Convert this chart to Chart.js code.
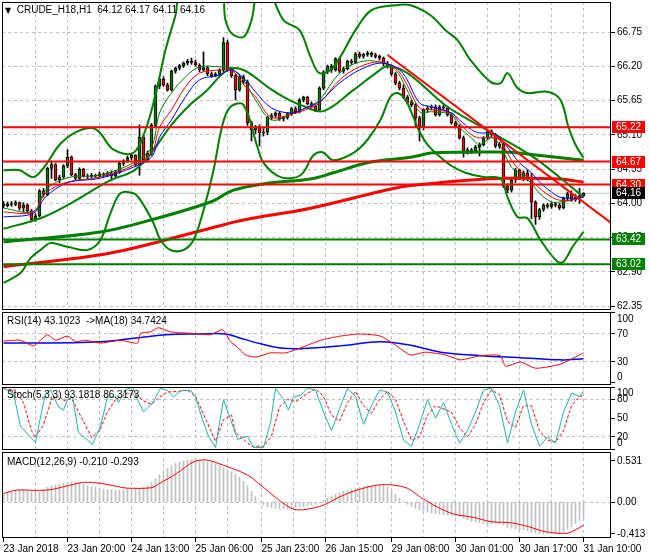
<!DOCTYPE html>
<html>
<head>
<meta charset="utf-8">
<title>CRUDE_H18,H1</title>
<script src="https://cdn.jsdelivr.net/npm/chart.js@4"></script>
<style>
  body { margin: 0; background: #fff; }
  #wrap { position: relative; width: 650px; height: 560px; overflow: hidden; font-family: 'Liberation Sans', Arial, sans-serif; }
  canvas { position: absolute; left: 0; }
  .ttl { position: absolute; font-size: 10px; line-height: 12px; color: #000; white-space: pre; }
  .tri { font-family: 'DejaVu Sans', sans-serif; font-size: 8px; }
</style>
</head>
<body>
<div id="wrap">
  <canvas id="priceChart"></canvas>
  <canvas id="rsiChart"></canvas>
  <canvas id="stochChart"></canvas>
  <canvas id="macdChart"></canvas>
  <div class="ttl" style="left:5px;top:4px"><span class="tri">▼</span>  CRUDE_H18,H1  64.12 64.17 64.11 64.16</div>
  <div class="ttl" style="left:7px;top:315px">RSI(14) 43.1023  -&gt;MA(18) 34.7424</div>
  <div class="ttl" style="left:7px;top:389px">Stoch(5,3,3) 93.1818 86.3173</div>
  <div class="ttl" style="left:7px;top:456px">MACD(12,26,9) -0.210 -0.293</div>
</div>
<script>
// time axis: bar 0 = 23 Jan 2018, bar 145 = 31 Jan 10:00 (one bar per hour)
const labelBars = [0, 16, 32, 48, 64.5, 80.5, 97, 113, 129, 145];
const labelTexts = ['23 Jan 2018', '23 Jan 20:00', '24 Jan 13:00', '25 Jan 06:00', '25 Jan 23:00',
                    '26 Jan 15:00', '29 Jan 08:00', '30 Jan 01:00', '30 Jan 17:00', '31 Jan 10:00'];
const midGridBars = [8, 24, 40, 56, 72.5, 88.5, 105, 121, 137];

// H1 candles
const opens = [
  63.99, 63.96, 63.99, 63.98, 64.01, 63.92, 63.97, 63.88, 63.74, 63.80,
  64.20, 64.14, 64.56, 64.62, 64.38, 64.42, 64.60, 64.74, 64.46, 64.40,
  64.55, 64.44, 64.43, 64.45, 64.44, 64.47, 64.45, 64.48, 64.44, 64.50,
  64.64, 64.68, 64.73, 64.77, 64.62, 65.06, 64.70, 64.80, 65.25, 65.88,
  65.99, 65.90, 65.82, 66.12, 66.17, 66.21, 66.25, 66.28, 66.26, 66.22,
  66.14, 66.18, 66.08, 66.05, 66.07, 66.14, 66.58, 66.15, 66.05, 65.82,
  66.03, 65.95, 65.29, 65.18, 65.22, 65.13, 65.14, 65.38, 65.41, 65.45,
  65.36, 65.38, 65.44, 65.52, 65.47, 65.66, 65.70, 65.60, 65.56, 65.50,
  65.85, 66.11, 66.20, 66.14, 66.32, 66.12, 66.16, 66.28, 66.26, 66.40,
  66.36, 66.39, 66.41, 66.38, 66.36, 66.33, 66.24, 66.20, 66.08, 65.93,
  65.85, 65.70, 65.62, 65.58, 65.37, 65.22, 65.50, 65.53, 65.55, 65.42,
  65.55, 65.53, 65.42, 65.29, 65.24, 65.05, 64.82, 64.86, 64.84, 64.90,
  64.94, 65.05, 65.15, 65.10, 64.92, 64.95, 64.28, 64.21, 64.37, 64.53,
  64.40, 64.49, 64.40, 64.02, 63.78, 63.90, 63.97, 63.95, 63.99, 63.97,
  63.93, 64.08, 64.15, 64.06, 64.10, 64.12
];
const highs = [
  64.03, 64.02, 64.03, 64.04, 64.02, 64.01, 63.99, 63.90, 63.83, 64.22,
  64.24, 64.58, 64.68, 64.64, 64.45, 64.62, 64.86, 64.76, 64.48, 64.57,
  64.56, 64.47, 64.48, 64.47, 64.50, 64.49, 64.51, 64.52, 64.53, 64.66,
  64.70, 64.76, 64.79, 64.78, 65.26, 65.08, 64.84, 65.28, 65.90, 66.01,
  66.03, 65.93, 66.14, 66.19, 66.23, 66.27, 66.31, 66.33, 66.30, 66.24,
  66.43, 66.20, 66.11, 66.10, 66.16, 66.66, 66.62, 66.18, 66.07, 66.06,
  66.06, 65.98, 65.32, 65.25, 65.26, 65.20, 65.40, 65.44, 65.47, 65.47,
  65.40, 65.46, 65.54, 65.55, 65.68, 65.72, 65.72, 65.63, 65.58, 65.87,
  66.13, 66.22, 66.23, 66.34, 66.34, 66.19, 66.30, 66.31, 66.42, 66.43,
  66.41, 66.44, 66.43, 66.41, 66.38, 66.35, 66.28, 66.22, 66.10, 65.96,
  65.90, 65.73, 65.66, 65.60, 65.40, 65.52, 65.56, 65.58, 65.58, 65.57,
  65.58, 65.55, 65.44, 65.32, 65.26, 65.08, 64.89, 64.88, 64.93, 64.97,
  65.07, 65.17, 65.18, 65.12, 64.98, 64.98, 64.31, 64.40, 64.56, 64.55,
  64.52, 64.53, 64.48, 64.04, 63.92, 63.99, 64.00, 64.02, 64.01, 64.00,
  64.10, 64.18, 64.20, 64.14, 64.24, 64.17
];
const lows = [
  63.93, 63.94, 63.95, 63.96, 63.89, 63.86, 63.85, 63.70, 63.71, 63.78,
  64.10, 64.12, 64.40, 64.36, 64.33, 64.40, 64.57, 64.44, 64.37, 64.38,
  64.42, 64.40, 64.41, 64.41, 64.42, 64.42, 64.43, 64.36, 64.42, 64.48,
  64.60, 64.66, 64.70, 64.60, 64.45, 64.68, 64.66, 64.77, 65.22, 65.84,
  65.88, 65.80, 65.80, 66.09, 66.14, 66.18, 66.22, 66.23, 66.20, 66.11,
  66.12, 66.05, 66.02, 66.03, 66.04, 66.10, 66.12, 66.02, 65.66, 65.80,
  65.92, 65.25, 65.00, 65.12, 64.92, 65.08, 65.10, 65.34, 65.38, 65.33,
  65.32, 65.35, 65.41, 65.44, 65.45, 65.63, 65.58, 65.53, 65.47, 65.48,
  65.82, 66.08, 66.10, 66.12, 66.10, 66.09, 66.14, 66.23, 66.24, 66.33,
  66.33, 66.36, 66.35, 66.33, 66.30, 66.21, 66.17, 66.05, 65.90, 65.82,
  65.68, 65.60, 65.55, 65.22, 65.00, 65.18, 65.46, 65.50, 65.40, 65.40,
  65.50, 65.40, 65.27, 65.21, 65.03, 64.74, 64.79, 64.80, 64.82, 64.76,
  64.92, 65.02, 65.07, 64.89, 64.88, 64.25, 64.17, 64.18, 64.33, 64.38,
  64.36, 64.36, 63.75, 63.66, 63.74, 63.87, 63.92, 63.92, 63.94, 63.90,
  63.91, 64.05, 64.03, 64.03, 64.00, 64.11
];
const closes = [
  63.96, 63.99, 63.98, 64.01, 63.92, 63.97, 63.88, 63.74, 63.80, 64.20,
  64.14, 64.56, 64.62, 64.38, 64.42, 64.60, 64.74, 64.46, 64.40, 64.55,
  64.44, 64.43, 64.45, 64.44, 64.47, 64.45, 64.48, 64.44, 64.50, 64.64,
  64.68, 64.73, 64.77, 64.62, 65.06, 64.70, 64.80, 65.25, 65.88, 65.99,
  65.90, 65.82, 66.12, 66.17, 66.21, 66.25, 66.28, 66.26, 66.22, 66.14,
  66.18, 66.08, 66.05, 66.07, 66.14, 66.58, 66.15, 66.05, 65.82, 66.03,
  65.95, 65.29, 65.18, 65.22, 65.13, 65.14, 65.38, 65.41, 65.45, 65.36,
  65.38, 65.44, 65.52, 65.47, 65.66, 65.70, 65.60, 65.56, 65.50, 65.85,
  66.11, 66.20, 66.14, 66.32, 66.12, 66.16, 66.28, 66.26, 66.40, 66.36,
  66.39, 66.41, 66.38, 66.36, 66.33, 66.24, 66.20, 66.08, 65.93, 65.85,
  65.70, 65.62, 65.58, 65.37, 65.22, 65.50, 65.53, 65.55, 65.42, 65.55,
  65.53, 65.42, 65.29, 65.24, 65.05, 64.82, 64.86, 64.84, 64.90, 64.94,
  65.05, 65.15, 65.10, 64.92, 64.95, 64.28, 64.21, 64.37, 64.53, 64.40,
  64.49, 64.40, 64.02, 63.78, 63.90, 63.97, 63.95, 63.99, 63.97, 63.93,
  64.08, 64.15, 64.06, 64.10, 64.12, 64.16
];

// overlays: [bar, price]
const maFast = [[0,63.92],[7.5,63.87],[10.5,64.21],[16,64.41],[24,64.45],[32.5,64.65],[37,64.90],[39,65.45],[42,65.77],
  [45.5,66.03],[49,66.19],[54,66.19],[57,66.17],[60.5,65.93],[63,65.66],[67,65.34],[72,65.43],[75.5,65.53],[79,65.66],
  [84,66.09],[89,66.27],[94,66.27],[98,66.14],[100.5,65.87],[104,65.47],[107,65.47],[112,65.42],[114,65.22],[117,65.05],
  [119,64.94],[122,65.05],[124,64.94],[127,64.58],[129,64.49],[132,64.32],[134,64.16],[137,64.02],[139,64.02],[142,64.05],[145,64.10]];
const maMid = [[0,63.86],[7.5,63.86],[10.5,64.16],[16,64.34],[24,64.42],[32.5,64.61],[37,64.81],[39,65.22],[42,65.50],
  [45.5,65.87],[49,66.09],[54,66.14],[57,66.14],[60.5,65.87],[63,65.71],[67,65.38],[72,65.43],[75.5,65.50],[79,65.61],
  [84,65.98],[89,66.19],[94,66.27],[98,66.17],[100.5,65.95],[104,65.53],[107,65.50],[112,65.45],[114,65.29],[117,65.10],
  [119,65.05],[122,65.06],[124,65.02],[127,64.69],[129,64.53],[132,64.37],[134,64.24],[137,64.10],[139,64.05],[142,64.05],[145,64.10]];
const maSlow = [[0,63.78],[7.5,63.84],[10.5,64.10],[16,64.33],[24,64.40],[32.5,64.58],[37,64.74],[39,65.06],[42,65.34],
  [45.5,65.71],[49,65.98],[54,66.06],[57,66.14],[60.5,65.98],[63,65.79],[67,65.53],[72,65.45],[75.5,65.53],[79,65.63],
  [84,65.93],[89,66.14],[94,66.25],[98,66.19],[100.5,66.03],[104,65.61],[107,65.55],[112,65.45],[114,65.34],[117,65.18],
  [119,65.13],[122,65.13],[124,65.06],[127,64.81],[129,64.65],[132,64.49],[134,64.34],[137,64.18],[139,64.10],[142,64.08],[145,64.10]];
const bbUpper = [[0,64.53],[4,64.53],[7.5,64.42],[10.5,64.61],[14,64.94],[18,65.14],[22,65.21],[24,65.14],[27.5,64.86],
  [32.5,64.81],[35.5,65.18],[38,65.74],[40.5,66.46],[43,67.02],[44.5,67.40],[54,67.45],[55.5,66.94],[57,66.73],[60,66.67],
  [62,66.94],[63.5,67.40],[66,67.45],[70,66.94],[74,66.78],[76.75,66.35],[79,66.09],[82.5,66.19],[88,66.78],[92,67.10],
  [98,67.18],[101.75,67.18],[106.75,67.02],[110.5,66.78],[113.5,66.62],[116.75,66.30],[121.75,65.95],[124.25,65.93],
  [126,66.09],[128.5,65.85],[131,65.77],[136,65.79],[139.25,65.66],[141.25,65.22],[143,64.94],[145,64.73]];
const bbMiddle = [[0,63.59],[9.25,63.76],[16,63.97],[26.75,64.37],[32.5,64.52],[36.75,64.79],[41.75,65.24],[46.75,65.59],
  [50.5,65.79],[56,66.14],[60,66.14],[66,65.87],[70,65.71],[74.25,65.58],[80,65.48],[87.5,65.82],[93.5,66.11],[96,66.20],
  [101,66.09],[111,65.55],[120,65.21],[132.5,64.74],[145,64.10]];
const bbLower = [[0,62.72],[4.25,62.88],[6.75,63.12],[9.25,63.25],[11.75,63.36],[16,63.30],[21,63.25],[24.25,63.41],
  [26.75,63.84],[29.25,64.16],[32.5,64.16],[34.25,64.05],[37.5,63.68],[39.25,63.41],[41.75,63.25],[45,63.25],[47.5,63.41],
  [50,63.89],[52.5,64.53],[54.75,65.26],[56.75,65.55],[60,65.58],[63.5,64.90],[65,64.65],[69.25,64.42],[74.25,64.45],
  [77.5,64.77],[79.75,64.82],[82.5,64.69],[87.5,64.81],[91,65.02],[94.25,65.34],[96.75,65.71],[98.5,65.77],[100.5,65.66],
  [102.5,65.38],[103.75,65.18],[106,64.94],[108.5,64.78],[111.75,64.61],[115.5,64.49],[120,64.42],[124.25,64.40],
  [126,64.10],[128.5,63.78],[131,63.76],[134.25,63.41],[138.5,63.06],[140,63.06],[142.25,63.30],[145,63.54]];
const maLongGreen = [[0,63.38],[24.25,63.54],[36.75,63.73],[51.75,64.02],[57.5,64.21],[66,64.32],[76.75,64.39],[82.5,64.49],
  [91,64.65],[101.75,64.74],[107.5,64.81],[116,64.82],[126.75,64.82],[132.5,64.78],[145,64.69]];
const maLongRed = [[0,62.98],[26.75,63.20],[51.75,63.60],[60,63.73],[76.75,63.92],[99.25,64.26],[107.5,64.32],[116,64.37],
  [126,64.40],[139,64.39],[145,64.34]];
const trendLine = [[96, 66.38], [152, 63.68]];
const redLevels = [65.22, 64.67, 64.30];
const greenLevels = [63.42, 63.02];
const bidPrice = 64.16;
const priceTicks = [66.75, 66.20, 65.65, 65.10, 64.55, 64.00, 63.45, 62.90, 62.35];

// RSI(14) and its MA(18): [bar, value]
const rsiLine = [[0,60],[4.25,61],[7.5,53],[9.25,61],[11,69],[13,61],[16,67],[18,59],[20.5,61],[24.25,57],[29.25,61],
  [33.5,57],[34.25,71],[36.75,73],[38.75,79],[41.75,73],[46.75,71],[51.75,69],[54.75,76],[56.75,59],[58.5,51],[60.5,40],
  [63,37],[66.75,43],[70.5,43],[74.25,50],[79.25,61],[84.25,67],[89.25,70],[94.25,67],[98,54],[101.75,40],[105.5,44],
  [110.5,40],[114.25,33],[119.25,39],[124.25,39],[125.5,24],[129.25,30],[133,21],[139.25,27],[145,43.1]];
const rsiMa = [[0,57],[24.25,59],[40.5,69],[49.25,70],[55.5,70],[59.25,64],[64.25,56],[69.25,50],[74.25,49],[84.25,53],
  [94.25,59],[101.75,54],[109.25,44],[119.25,39],[129.25,36],[139.25,33],[145,34.7]];
const rsiTicks = [100, 70, 30, 0];

// Stochastic(5,3,3): [bar, value]
const stochK = [[0,98],[2.5,90],[4.25,37],[8,11],[9.25,52],[10.5,90],[11.75,95],[13.75,68],[15,63],[16,80],[17.25,84],
  [18.75,27],[22.25,8],[24.25,37],[26,84],[28,84],[28.75,75],[30.5,95],[32.25,100],[33.5,80],[35,60],[37.25,74],
  [39.25,98],[41,94],[42.5,84],[44.25,94],[46.75,95],[48,84],[49.75,48],[51.25,21],[53,3],[55,80],[56.75,48],[58.5,16],
  [61,21],[62.5,3],[65,3],[66.75,43],[68,98],[70,80],[71.25,63],[72.5,84],[74.25,87],[76,98],[78,95],[80,60],[82,30],
  [84,65],[86,98],[88,85],[90,40],[92,70],[94,95],[96,92],[98,60],[100,15],[102,5],[104,40],[106,80],[108,50],[110,75],
  [112,40],[114,10],[116,30],[118,60],[120,95],[122,98],[124,70],[126,10],[128,60],[130,95],[132,40],[134,5],[136,20],
  [138,10],[140,60],[142,90],[144,85],[145,93.2]];
const stochD = [[0,97],[3,95],[5,75],[7,30],[8,19],[10,40],[12,80],[14,85],[15,78],[17,82],[20,45],[22,19],[24,30],
  [26,60],[28,80],[31,90],[33,88],[35,78],[37,72],[39,84],[41,92],[44,93],[46,95],[48,85],[51,42],[53,13],[55,48],[57,55],
  [58,27],[62,5],[65,5],[67,21],[69,68],[71,80],[73,76],[76,90],[78,97],[80,85],[82,55],[84,45],[86,75],[88,93],[90,70],
  [92,58],[94,80],[96,93],[98,80],[100,45],[102,15],[104,20],[106,55],[108,70],[110,65],[112,60],[114,35],[116,20],
  [118,40],[120,75],[122,95],[124,88],[126,45],[128,35],[130,70],[132,70],[134,30],[136,15],[138,12],[140,30],[142,70],
  [144,85],[145,86.3]];
const stochTicks = [100, 80, 50, 20, 0];

// MACD(12,26,9): main line per bar (histogram) and signal [bar, value]
const macdMain = [
  0.10, 0.12, 0.14, 0.15, 0.16, 0.16, 0.15, 0.15, 0.14, 0.13,
  0.16, 0.19, 0.21, 0.22, 0.23, 0.24, 0.25, 0.26, 0.26, 0.25,
  0.23, 0.21, 0.20, 0.19, 0.18, 0.17, 0.16, 0.16, 0.15, 0.16,
  0.16, 0.17, 0.17, 0.18, 0.18, 0.19, 0.21, 0.25, 0.30, 0.35,
  0.40, 0.44, 0.47, 0.50, 0.52, 0.53, 0.54, 0.55, 0.55, 0.54,
  0.53, 0.52, 0.51, 0.49, 0.47, 0.45, 0.42, 0.39, 0.36, 0.32,
  0.27, 0.21, 0.14, 0.07, 0.01, -0.04, -0.06, -0.07, -0.08, -0.09,
  -0.09, -0.09, -0.08, -0.07, -0.06, -0.06, -0.05, -0.04, -0.03, -0.01,
  0.02, 0.05, 0.08, 0.10, 0.12, 0.14, 0.15, 0.17, 0.18, 0.19,
  0.20, 0.21, 0.21, 0.22, 0.22, 0.21, 0.19, 0.15, 0.10, 0.05,
  0.01, -0.03, -0.06, -0.08, -0.10, -0.12, -0.13, -0.14, -0.15, -0.16,
  -0.17, -0.17, -0.17, -0.18, -0.19, -0.21, -0.23, -0.25, -0.26, -0.27,
  -0.28, -0.28, -0.28, -0.28, -0.28, -0.30, -0.33, -0.34, -0.35, -0.36,
  -0.36, -0.37, -0.39, -0.40, -0.41, -0.41, -0.41, -0.41, -0.41, -0.40,
  -0.38, -0.35, -0.32, -0.28, -0.24, -0.21
];
const macdSignal = [[0,0.11],[3.4,0.155],[8.2,0.15],[11.8,0.16],[16,0.21],[20.2,0.255],[24.4,0.24],[28.6,0.20],[30.7,0.18],
  [37,0.185],[39,0.24],[43.3,0.37],[47.5,0.52],[50.6,0.545],[54.8,0.48],[61,0.35],[65.3,0.177],[69.5,0.0],[72.6,-0.095],
  [75.8,-0.095],[80,-0.04],[84.2,0.07],[88.4,0.155],[93.6,0.22],[97.3,0.22],[101,0.177],[104,0.07],[108.3,-0.06],
  [112.5,-0.155],[117.7,-0.20],[121.9,-0.255],[127.1,-0.27],[131.3,-0.32],[135.5,-0.385],[140.8,-0.405],[143,-0.36],[145,-0.30]];
const macdTicks = [0.531, 0, -0.413];

const GRID = '#c0c0c0';
const NONE = 'rgba(0,0,0,0)';
Chart.defaults.font.family = "'Liberation Sans', Arial, sans-serif";
Chart.defaults.font.size = 10;
Chart.defaults.color = '#000';

const pts = arr => arr.map(p => ({ x: p[0], y: p[1] }));
const xTicks = labelBars.concat(midGridBars).sort((a, b) => a - b);
const labelFor = v => { const k = labelBars.indexOf(v); return k < 0 ? '' : labelTexts[k]; };

// offset:false matters: the bar datasets would otherwise switch it on for x
function xAxis(showLabels) {
  return {
    type: 'linear', min: -0.375, max: 151.875, offset: false,
    afterBuildTicks: s => { s.ticks = xTicks.map(v => ({ value: v })); },
    afterFit: s => { s.height = showLabels ? 22 : 0; s.paddingLeft = 0; s.paddingRight = 0; },
    grid: {
      offset: false,
      color: c => (c.tick && c.tick.value > 0 ? GRID : NONE),
      drawTicks: showLabels, tickLength: 4, tickBorderDash: [10, 0],
      tickColor: c => (c.tick && labelFor(c.tick.value) ? '#000' : NONE)
    },
    border: { display: false, dash: [3, 3] },
    ticks: { display: showLabels, autoSkip: false, maxRotation: 0, align: 'start', padding: 1, callback: v => labelFor(v) }
  };
}

function yAxis(min, max, ticks, fmt, showGrid) {
  return {
    position: 'right', min, max, offset: false,
    afterBuildTicks: s => { s.ticks = ticks.map(v => ({ value: v })); },
    afterFit: s => { s.width = 39; s.paddingTop = 0; s.paddingBottom = 0; },
    grid: { offset: false, color: c => (c.tick && showGrid(c.tick.value) ? GRID : NONE), tickColor: '#000', tickLength: 4, tickBorderDash: [10, 0] },
    border: { display: false, dash: [3, 3] },
    ticks: { padding: 2, autoSkip: false, callback: fmt }
  };
}

// black frame round each plot area
const frame = {
  id: 'frame',
  afterDraw(chart) {
    const { ctx, chartArea: a } = chart;
    ctx.save();
    ctx.strokeStyle = '#000';
    ctx.lineWidth = 1;
    ctx.strokeRect(Math.round(a.left) + 0.5, Math.round(a.top) + 0.5, Math.round(a.right - a.left) - 1, Math.round(a.bottom - a.top) - 1);
    ctx.restore();
  }
};

// coloured price tags for the horizontal levels and the bid
const levelTags = {
  id: 'levelTags',
  afterDraw(chart) {
    const { ctx, scales: { y } } = chart;
    const tags = redLevels.map(v => [v, '#ff0000'])
      .concat(greenLevels.map(v => [v, '#008000']))
      .concat([[bidPrice, '#000000']]);
    ctx.save();
    ctx.font = "10px 'Liberation Sans', Arial, sans-serif";
    ctx.textBaseline = 'middle';
    tags.forEach(([v, bg]) => {
      const py = Math.round(y.getPixelForValue(v));
      ctx.fillStyle = bg;
      ctx.fillRect(612, py - 6, 33, 12);
      ctx.fillStyle = '#fff';
      ctx.fillText(v.toFixed(2), 616, py);
    });
    ctx.restore();
  }
};

function makeChart(id, top, height, padTop, padBottom, datasets, yCfg, showX, extra) {
  const cv = document.getElementById(id);
  cv.width = 650; cv.height = height; cv.style.top = top + 'px';
  return new Chart(cv, {
    type: 'line',
    data: { datasets },
    options: {
      responsive: false, animation: false, events: [],
      layout: { autoPadding: false, padding: { left: 2, right: 0, top: padTop, bottom: padBottom } },
      plugins: { legend: { display: false }, tooltip: { enabled: false } },
      scales: { x: xAxis(showX), y: yCfg }
    },
    plugins: [frame].concat(extra || [])
  });
}

const line = (data, color, width, order, extra) => Object.assign({
  type: 'line', data: pts(data), borderColor: color, borderWidth: width,
  pointRadius: 0, tension: 0.35, fill: false, order, clip: 0
}, extra || {});
const hline = (v, color, width, order) => line([[-1, v], [153, v]], color, width, order, { tension: 0 });

// ---- price panel ----
const bodies = opens.map((o, k) => ({ x: k, y: [o, closes[k]] }));
const wicks = lows.map((l, k) => ({ x: k, y: [l, highs[k]] }));

makeChart('priceChart', 0, 312, 2, 2, [
  hline(bidPrice, '#c0c0c0', 1, 20),
  { type: 'bar', data: wicks, backgroundColor: '#000', barThickness: 1, grouped: false, order: 12 },
  { type: 'bar', data: bodies, grouped: false, barThickness: 3, borderWidth: 1, borderColor: '#000', borderSkipped: false,
    backgroundColor: bodies.map(b => (b.y[1] >= b.y[0] ? '#008000' : '#ff0000')), order: 11 },
  line(maLongRed, '#ff0000', 3, 8),
  line(maLongGreen, '#008000', 3, 8),
  line(bbUpper, '#008000', 2, 7),
  line(bbMiddle, '#008000', 2, 7),
  line(bbLower, '#008000', 2, 7),
  line(maSlow, '#0000ff', 1, 5),
  line(maMid, '#ff0000', 1, 5),
  line(maFast, '#008000', 1, 5),
  ...redLevels.map(v => hline(v, '#ff0000', 2, 3)),
  ...greenLevels.map(v => hline(v, '#008000', 2, 3)),
  line(trendLine, '#ff0000', 2, 2, { tension: 0 })
], yAxis(62.286, 67.232, priceTicks, v => v.toFixed(2), () => true), false, [levelTags]);

// ---- RSI panel ----
makeChart('rsiChart', 311, 76, 1, 2, [
  line(rsiMa, '#0000ff', 1.5, 2),
  line(rsiLine, '#ff0000', 1, 1, { tension: 0.2 })
], yAxis(-2.9, 101.4, rsiTicks, v => (v === 100 ? ['', '100'] : v === 0 ? ['0', ''] : String(v)), v => v === 70 || v === 30), false);

// ---- Stochastic panel ----
makeChart('stochChart', 386, 66, 1, 2, [
  line(stochD, '#ff0000', 1, 2, { borderDash: [3, 2], tension: 0 }),
  line(stochK, '#20b2aa', 1, 1, { tension: 0 })
], yAxis(-1, 100, stochTicks, v => (v === 100 ? ['', '100'] : v === 0 ? ['0', ''] : String(v)), v => v === 80 || v === 20), false);

// ---- MACD panel ----
makeChart('macdChart', 451, 109, 1, 0, [
  line(macdSignal, '#ff0000', 1, 1, { tension: 0.3 }),
  { type: 'bar', data: macdMain.map((v, k) => ({ x: k, y: v })), backgroundColor: '#c0c0c0', barThickness: 1, grouped: false, order: 2 }
], yAxis(-0.466, 0.6475, macdTicks, v => (v === 0 ? '0.00' : v.toFixed(3)), v => v === 0), true);
</script>
</body>
</html>
